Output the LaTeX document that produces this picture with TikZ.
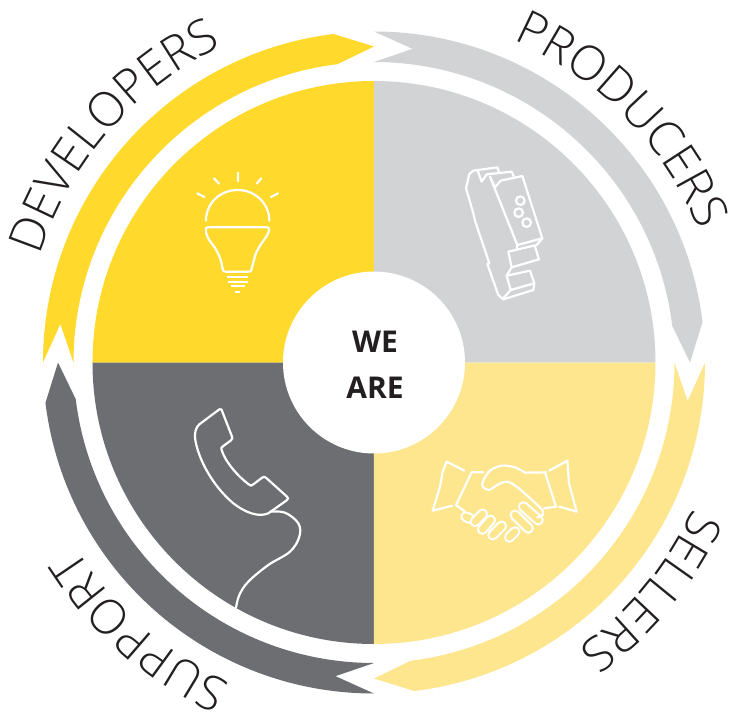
\documentclass[tikz,border=0pt]{standalone}
\usepackage{fontspec}
\usetikzlibrary{decorations.text}
\newfontfamily\lblfont{Open Sans Light}
\newfontfamily\boldfont{Open Sans}[BoldFont=* Bold]
\definecolor{cyel}{HTML}{FFDA2D}
\definecolor{cgry}{HTML}{D1D3D4}
\definecolor{clyl}{HTML}{FEE68E}
\definecolor{cdrk}{HTML}{6D6E71}
\definecolor{ctxt}{HTML}{231F20}
\tikzset{
  zoomed/.style 2 args={shift={(#1-374,362.5-#2)},x=0.33333pt,y=-0.33333pt},
  icon/.style={draw=white,line width=2.2pt,line cap=round,line join=round},
  centertext/.style={text=ctxt,font=\boldfont\bfseries\fontsize{30}{32}\selectfont,inner sep=0pt},
  seg/.style={fill=#1,draw=none}
}
\newcommand{\ringseg}[2]{%
  \path[seg=#2,rotate=#1] (0:331) arc[start angle=0,end angle=-83,radius=331] -- (-90:316) -- (-83:300.5)
    arc[start angle=-83,end angle=0,radius=300.5] -- (-7:316) -- cycle;}
\newcommand{\quadrant}[2]{%
  \path[fill=#2,rotate=#1] (0,0) -- (0:281.5) arc[start angle=0,end angle=90,radius=281.5] -- cycle;}
\newcommand{\ringlabel}[3]{% mid angle (clockwise from north), half span, text
  \path[rotate=-#1,decorate,decoration={text along path,text align=center,
     text={|\lblfont\fontsize{48}{52}\selectfont\color{ctxt}|#3}}]
     (90+#2:351) arc[start angle=90+#2,end angle=90-#2,radius=351];}
\begin{document}
\begin{tikzpicture}[x=1pt,y=1pt]
\useasboundingbox (-374,-353.5) rectangle (366,362.5);
\quadrant{0}{cgry}
\quadrant{90}{cyel}
\quadrant{180}{cdrk}
\quadrant{270}{clyl}
\fill[white] (0,0) circle[radius=91];
\ringseg{90}{cgry}
\ringseg{0}{clyl}
\ringseg{-90}{cdrk}
\ringseg{180}{cyel}
\ringlabel{45.6}{30}{PRODUCERS}
\ringlabel{129.5}{25}{SELLERS}
\ringlabel{221}{25}{SUPPORT}
\ringlabel{311}{30}{DEVELOPERS}
\node[centertext] (we) at (1,20.5) {WE};
\node[centertext] (are) at (1,-25.5) {ARE};
% bulb
\begin{scope}[zoomed={170}{150}]
  \draw[icon] (204,68)--(204,93) (132,85)--(147,101) (82,130)--(103,141) (274,85)--(260,101) (324,130)--(303,141);
  \draw[icon] (108,212) .. controls (108,160) and (150,120) .. (203,120) .. controls (255,120) and (298,160) .. (298,212);
  \draw[icon] (120,232)--(285,232) .. controls (297,232) .. (297,242) .. controls (293,262) and (265,285) .. (255,318) -- (246,352) .. controls (243,365) .. (233,365) -- (170,365) .. controls (160,365) .. (157,352) .. controls (152,320) and (140,300) .. (125,280) .. controls (112,262) .. (108,245) .. controls (107,232) .. (120,232) -- cycle;
  \draw[icon,line cap=butt,line width=1.9pt] (172,382)--(235,382) (174,395)--(233,395) (182,408)--(225,408) (194,426)--(211,426);
\end{scope}
% din rail device
\begin{scope}[zoomed={440}{150}]
  \draw[icon] (78,115)--(88,72)--(100,62)--(172,52)--(177,66);
  \draw[icon] (113,62)--(125,95)--(140,73)--(215,65)--(221,78);
  \draw[icon] (150,80)--(165,112)--(182,92)--(247,78)--(307,265)--(232,285)--cycle;
  \draw[icon] (78,115)--(100,190)--(105,212)--(148,340)--(142,342)--(175,435)--(190,448)--(280,420)--(283,400)--(270,362)--(200,377)--(212,420)--(190,445);
  \draw[icon] (212,420)--(283,400);
  \draw[icon] (307,265)--(290,285)--(205,305)--(215,352)--(297,328)--(285,290);
  \draw[icon] (215,352)--(200,377);
  \draw[icon] (232,285)--(232,297);
  \draw[icon] (241,152) circle[radius=13] (236,188) circle[radius=13] (260,218) circle[radius=13];
\end{scope}
% handshake
\begin{scope}[zoomed={420}{440}]
  \draw[icon] (133,92)--(80,65)--(68,95)--(60,140)--(38,212)--(97,197);
  \draw[icon] (388,92)--(442,62)--(447,130)--(470,215)--(418,200);
  \draw[icon] (190,97)--(155,97)--(108,195)--(135,215);
  \draw[icon] (375,97)--(408,200)--(372,205);
  \draw[icon] (315,98)--(378,97);
  \foreach \a/\b/\c/\d in {137/230/150/236,165/245/188/222,187/268/212/240,218/285/245/258,268/292/285/275,285/225/325/265,310/200/355/240}{
    \draw[white,line width=11pt,line cap=round] (\a,\b)--(\c,\d);
    \draw[clyl,line width=6.6pt,line cap=round] (\a,\b)--(\c,\d);
  }
  \draw[icon] plot[smooth,tension=.55] coordinates {(315,98)(285,82)(245,77)(210,92)(190,122)(188,140)(207,150)(235,133)(262,125)(290,140)(325,170)(365,208)(368,225)(352,232)};
\end{scope}
% telephone
\begin{scope}[zoomed={170}{395}]
  \draw[icon] (148,43) -- (88,88) .. controls (78,96) and (72,115) .. (76,135) .. controls (85,190) and (125,270) .. (190,325) .. controls (225,352) and (265,368) .. (295,355) -- (350,316) .. controls (356,310) .. (350,304) -- (290,250) .. controls (282,244) .. (275,249) -- (250,268) .. controls (243,273) .. (236,268) .. controls (205,245) and (165,200) .. (155,165) .. controls (153,158) .. (160,153) -- (183,136) .. controls (188,130) .. (185,122) -- (157,50) .. controls (155,42) .. (148,43) -- cycle;
  \draw[icon] plot[smooth,tension=.6] coordinates {(300,350)(345,353)(385,385)(388,425)(360,470)(295,510)(235,560)(208,600)(198,638)};
\end{scope}
\end{tikzpicture}
\end{document}
